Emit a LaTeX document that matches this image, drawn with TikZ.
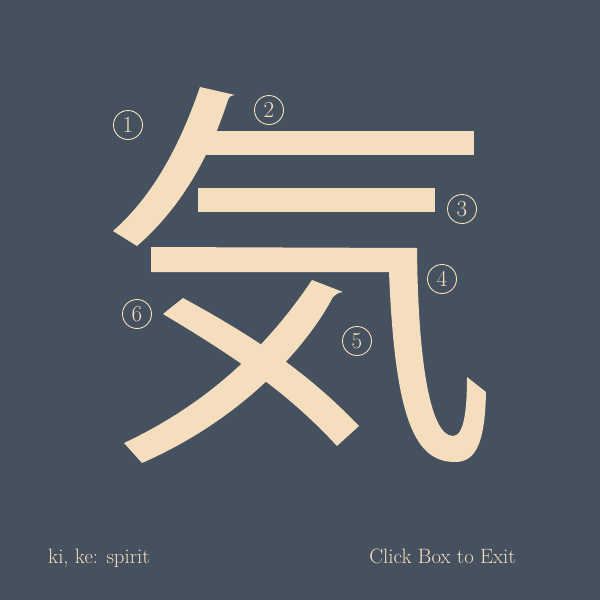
\documentclass[tikz,border=0pt]{standalone}
\usepackage{xcolor}
\definecolor{slatebg}{RGB}{69,81,95}
\definecolor{inkwheat}{RGB}{245,222,190}
\usepackage{tikz}
\usetikzlibrary{positioning,calc}
\newcommand{\strokenum}[3]{%
  \node[numcircle] (num#1) at (#2,#3) {#1};}

\begin{document}
\begin{tikzpicture}[x=1pt,y=-1pt,
  numcircle/.style={circle,draw=inkwheat,line width=0.9pt,text=inkwheat,
    minimum size=29pt,inner sep=0pt,font=\fontsize{23}{24}\selectfont},
  caption/.style={text=inkwheat,inner sep=0pt,font=\fontsize{20.8}{22}\selectfont}]
  \fill[slatebg] (0,0) rectangle (600,600);
  % strokes of the character
  \fill[inkwheat] (200,87) -- (235,95) .. controls (230,96) .. (228,100)
    .. controls (215,140) and (190,200) .. (137,246) -- (113,231)
    .. controls (160,190) and (185,130) .. (200,87) -- cycle;                % 1
  \fill[inkwheat] (200,131) rectangle (474,155);                            % 2
  \fill[inkwheat] (198,188) rectangle (435,212);                            % 3
  \fill[inkwheat] (151,247) -- (417,248)
    .. controls (418,360) and (430,436) .. (453,436)
    .. controls (464,436) and (467,410) .. (467,377) -- (486,392)
    .. controls (485,445) and (475,462) .. (455,462)
    .. controls (415,462) and (395,420) .. (389,272) -- (151,272) -- cycle;  % 4
  \fill[inkwheat] (312,280) -- (343,292) .. controls (338,293) .. (333,297)
    .. controls (305,350) and (240,420) .. (142,463) -- (124,443)
    .. controls (205,405) and (265,350) .. (312,280) -- cycle;               % 5
  \fill[inkwheat] (163,314) -- (183,298)
    .. controls (260,340) and (310,375) .. (359,426) -- (337,446)
    .. controls (290,395) and (240,360) .. (163,314) -- cycle;               % 6
  % stroke order
  \strokenum{1}{128}{125}
  \strokenum{2}{269}{110}
  \strokenum{3}{462}{209}
  \strokenum{4}{442}{279}
  \strokenum{5}{357}{341}
  \strokenum{6}{137}{314}
  \node[caption,anchor=base west] (meaning) at (48,563) {ki, ke: spirit};
  \node[caption,anchor=base east] (exit) at (516,563) {Click Box to Exit};
\end{tikzpicture}
\end{document}
